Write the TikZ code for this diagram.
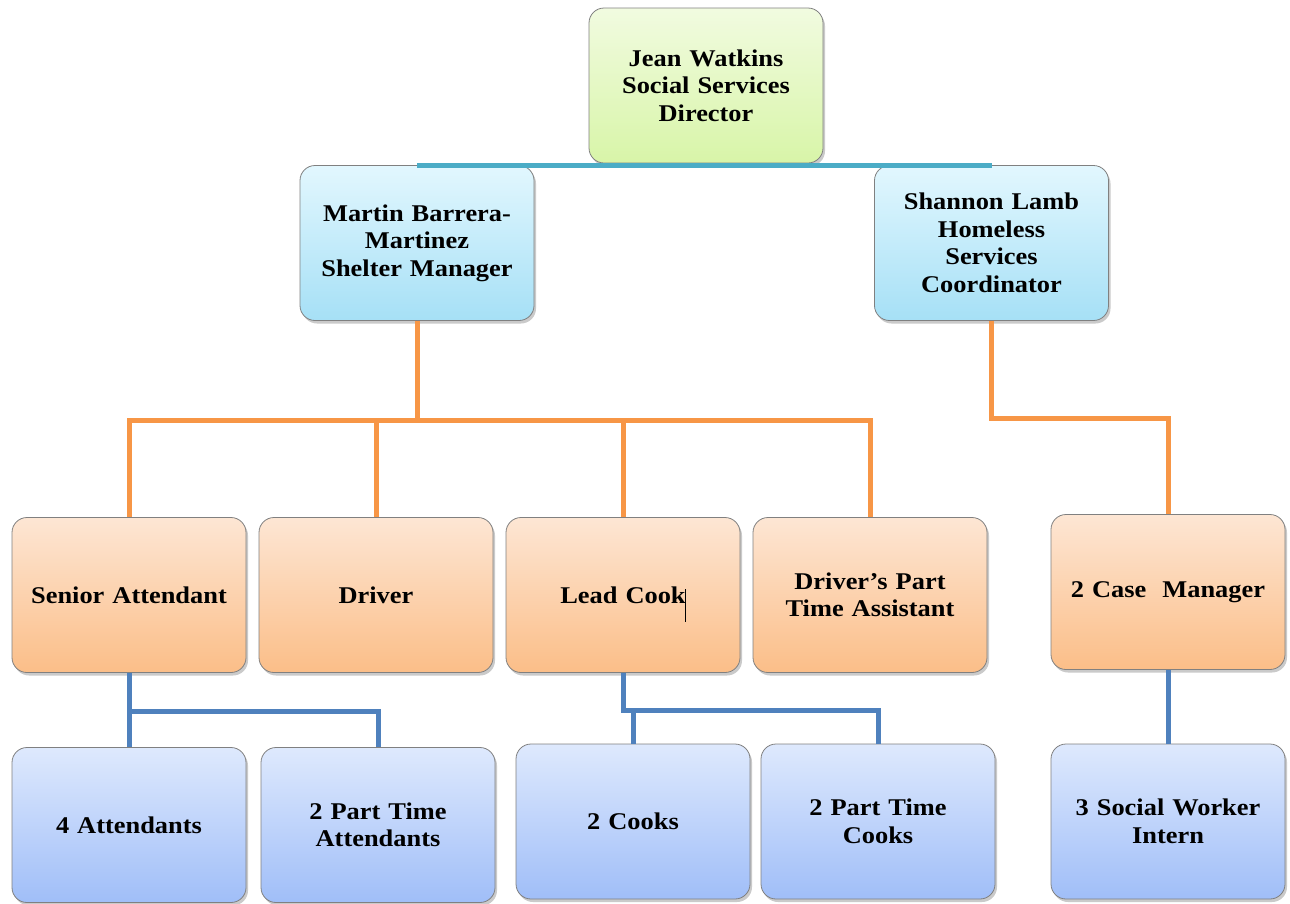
\documentclass[tikz,border=0pt]{standalone}
\usepackage{fontspec}
\setmainfont[FakeStretch=1.1]{Liberation Serif}
\usetikzlibrary{shadows,calc}
\definecolor{lnorange}{HTML}{F79646}
\definecolor{lnblue}{HTML}{4F81BD}
\definecolor{lnteal}{HTML}{4BACC6}
\definecolor{bordergray}{HTML}{808080}
\tikzset{
  box/.style={draw=bordergray, line width=0.8pt, rounded corners=15pt,
    minimum width=234pt, minimum height=155pt, align=center,
    font=\fontsize{24}{27.5}\selectfont\bfseries, text width=225pt,
    drop shadow={shadow xshift=2pt, shadow yshift=-3pt, opacity=0.35, fill=black!60}},
  greenbox/.style={box, top color={rgb,255:red,241;green,251;blue,224}, bottom color={rgb,255:red,216;green,245;blue,168}},
  cyanbox/.style={box, top color={rgb,255:red,226;green,247;blue,254}, bottom color={rgb,255:red,166;green,224;blue,246}},
  orangebox/.style={box, top color={rgb,255:red,253;green,230;blue,212}, bottom color={rgb,255:red,251;green,190;blue,136}},
  bluebox/.style={box, top color={rgb,255:red,222;green,233;blue,253}, bottom color={rgb,255:red,160;green,190;blue,248}},
  olink/.style={lnorange, line width=5pt, line join=miter},
  blink/.style={lnblue, line width=5pt, line join=miter},
  tlink/.style={lnteal, line width=5pt}
}
\begin{document}
\begin{tikzpicture}[x=1pt,y=-1pt]
\useasboundingbox (0,0) rectangle (1290,903);
% nodes
\node[greenbox] (top) at (706,85.5) {Jean Watkins\\Social Services\\Director};
\node[cyanbox] (mbm) at (417,243) {Martin Barrera-\\Martinez\\Shelter Manager};
\node[cyanbox] (snl) at (991.5,243) {Shannon Lamb\\Homeless\\Services\\Coordinator};
% level 3
\node[orangebox] (sa) at (129,595) {Senior Attendant};
\node[orangebox] (dr) at (376,595) {Driver};
\node[orangebox] (lc) at (623,595) {Lead Cook};
\node[orangebox] (dpa) at (870,595) {Driver's Part\\Time Assistant};
\node[orangebox] (cm) at (1168,592) {2 Case~ Manager};
% level 4
\node[bluebox] (at) at (129,825) {4 Attendants};
\node[bluebox] (pta) at (378,825) {2 Part Time\\Attendants};
\node[bluebox] (ck) at (633,821.5) {2 Cooks};
\node[bluebox] (ptc) at (878,821.5) {2 Part Time\\Cooks};
\node[bluebox] (swi) at (1168,821.5) {3 Social Worker\\Intern};
% bus coordinates
\coordinate (bus1) at (417,420);
\coordinate (bus2) at (992,418);
\coordinate (bus3) at (129,711);
\coordinate (bus4) at (623,710);
% orange connectors
\draw[olink] (mbm.south) -- (bus1);
\draw[olink] (sa.north) -- (sa.north |- bus1) -- (dpa.north |- bus1) -- (dpa.north);
\draw[olink] (dr.north) -- (dr.north |- bus1);
\draw[olink] (lc.north) -- (lc.north |- bus1);
\draw[olink] (snl.south) -- (snl.south |- bus2) -- (cm.north |- bus2) -- (cm.north);
% blue connectors
\draw[blink] (sa.south) -- (at.north);
\draw[blink] (bus3) -- (pta.north |- bus3) -- (pta.north);
\draw[blink] (lc.south) -- (bus4) -- (ptc.north |- bus4) -- (ptc.north);
\draw[blink] (ck.north |- bus4) -- (ck.north);
\draw[blink] (cm.south) -- (swi.north);
% teal connector over top of level 2
\draw[tlink] (mbm.north) -- (snl.north);
% text cursor mark
\draw[black, line width=1pt] ($(lc.center)+(62,-6)$) -- ($(lc.center)+(62,27)$);
\end{tikzpicture}
\end{document}
